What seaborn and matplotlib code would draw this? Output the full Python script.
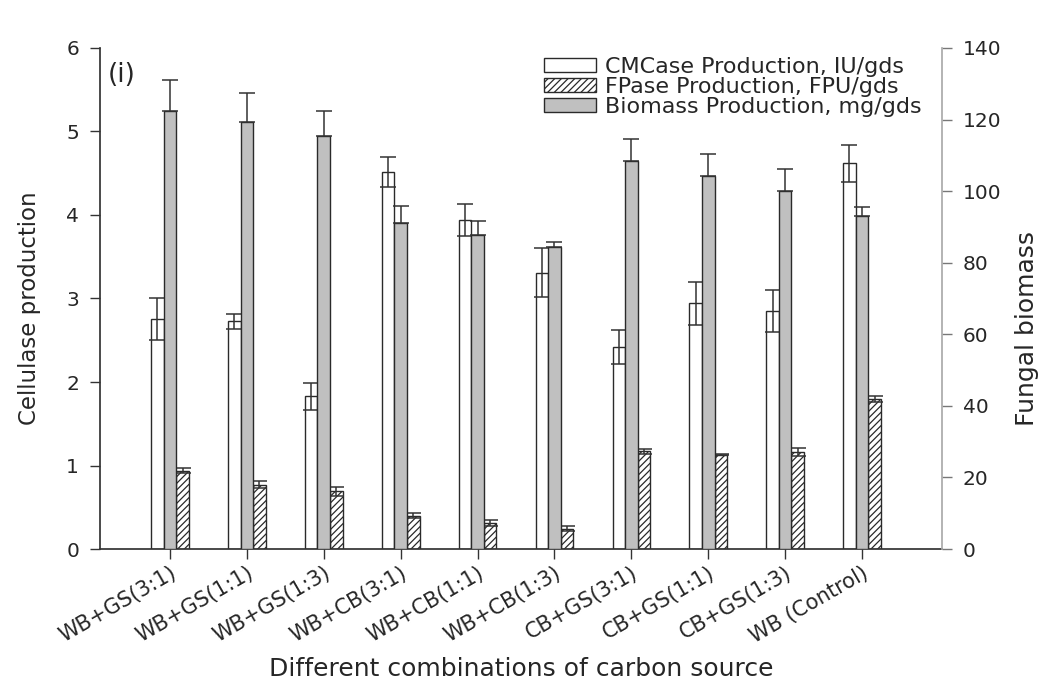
import numpy as np
import pandas as pd
import matplotlib
matplotlib.use("Agg")
import matplotlib.pyplot as plt
import matplotlib.transforms as mtransforms
from matplotlib.patches import Patch
import seaborn as sns

categories = ["WB+GS(3:1)", "WB+GS(1:1)", "WB+GS(1:3)", "WB+CB(3:1)", "WB+CB(1:1)",
              "WB+CB(1:3)", "CB+GS(3:1)", "CB+GS(1:1)", "CB+GS(1:3)", "WB (Control)"]
cmcase = [2.75, 2.73, 1.83, 4.52, 3.94, 3.31, 2.42, 2.94, 2.85, 4.62]
cmcase_err = [0.25, 0.09, 0.16, 0.18, 0.19, 0.29, 0.20, 0.26, 0.25, 0.22]
fpase = [0.94, 0.77, 0.69, 0.40, 0.31, 0.24, 1.17, 1.13, 1.16, 1.80]
fpase_err = [0.03, 0.04, 0.05, 0.03, 0.035, 0.03, 0.03, 0.01, 0.05, 0.035]
biomass = [122.5, 119.3, 115.5, 91.2, 87.8, 84.5, 108.4, 104.3, 100.0, 93.0]
biomass_err = [8.6, 8.0, 7.0, 4.7, 3.9, 1.4, 6.2, 6.2, 6.2, 2.6]

lab_cm = "CMCase Production, IU/gds"
lab_fp = "FPase Production, FPU/gds"
lab_bm = "Biomass Production, mg/gds"

sns.set_theme(style="white")
plt.rcParams["font.family"] = ["DejaVu Sans"]
plt.rcParams["hatch.linewidth"] = 0.9

left_df = pd.DataFrame({
    "cat": categories * 2,
    "value": cmcase + fpase,
    "series": [lab_cm] * len(categories) + [lab_fp] * len(categories),
})
right_df = pd.DataFrame({"cat": categories, "value": biomass, "series": [lab_bm] * len(categories)})

fig = plt.figure(figsize=(10.46, 6.85), dpi=100)
ax = fig.add_axes([0.0956, 0.1985, 0.805, 0.7315])
ax2 = ax.twinx()

edge = "#2a2a2a"
W = 0.49
sns.barplot(data=left_df, x="cat", y="value", hue="series",
            hue_order=[lab_cm, "_gap", lab_fp], order=categories,
            palette={lab_cm: "white", "_gap": "white", lab_fp: "white"},
            width=W, dodge=True, errorbar=None, edgecolor=edge, linewidth=1.0,
            legend=False, ax=ax, saturation=1)
sns.barplot(data=right_df, x="cat", y="value", hue="series",
            hue_order=["_a", lab_bm, "_b"], order=categories,
            palette={"_a": "white", lab_bm: "#c0c0c0", "_b": "white"},
            width=W, dodge=True, errorbar=None, edgecolor=edge, linewidth=1.0,
            legend=False, ax=ax2, saturation=1)


def bar_centers(axis, side):
    """Centers of the drawn bars on one side (-1 left, 0 middle, +1 right) of each category."""
    found = {}
    for p in axis.patches:
        cx = p.get_x() + p.get_width() / 2
        i = int(round(cx))
        off = cx - i
        s = 0 if abs(off) < 0.05 else (1 if off > 0 else -1)
        if s == side:
            found[i] = (cx, p)
    idx = sorted(found)
    return [found[i][0] for i in idx], [found[i][1] for i in idx]


cm_x, _ = bar_centers(ax, -1)
fp_x, fp_patches = bar_centers(ax, 1)
bm_x, _ = bar_centers(ax2, 0)
for p in fp_patches:
    p.set_hatch("/////")

ecol = "#333333"
eb = dict(fmt="none", ecolor=ecol, elinewidth=1.1, capsize=5.5, capthick=1.1, zorder=5)
ax.errorbar(cm_x, cmcase, yerr=cmcase_err, **eb)
ax.errorbar(fp_x, fpase, yerr=fpase_err, **eb)
ax2.errorbar(bm_x, biomass, yerr=[np.zeros(len(biomass)), biomass_err], **eb)

ax.set_xlim(-0.91, 10.04)
ax.set_ylim(0, 6)
ax2.set_ylim(0, 140)
ax.set_yticks(range(0, 7))
ax2.set_yticks(range(0, 141, 20))

ax.set_xticks(range(len(categories)))
ax.set_xticklabels(categories, rotation=30, ha="right", rotation_mode="anchor", fontsize=15)
shift = mtransforms.ScaledTranslation(6 / 100, 0, fig.dpi_scale_trans)
for t in ax.get_xticklabels():
    t.set_transform(t.get_transform() + shift)
ax.tick_params(axis="x", length=7, width=1, color="#333333", direction="out", pad=3, bottom=True)
ax.tick_params(axis="y", length=7, width=1, color="#333333", direction="out", labelsize=14.5,
               left=True, pad=8)
ax2.tick_params(axis="y", length=7, width=1, color="#777777", direction="out", labelsize=14.5,
                right=True, pad=8)

ax.set_ylabel("Cellulase production", fontsize=16.5, va="center")
ax.yaxis.set_label_coords(-0.084, 0.48)
ax2.set_ylabel("Fungal biomass", fontsize=18, va="center")
ax2.yaxis.set_label_coords(1.101, 0.44)
ax.set_xlabel("Different combinations of carbon source", fontsize=18, va="center")
ax.xaxis.set_label_coords(0.5, -0.24)

for a in (ax, ax2):
    a.spines["top"].set_visible(False)
ax.spines["left"].set_color("#333333")
ax.spines["bottom"].set_color("#333333")
ax.spines["right"].set_visible(False)
ax2.spines["left"].set_visible(False)
ax2.spines["bottom"].set_visible(False)
ax2.spines["right"].set_color("#aaaaaa")

ax.text(0.009, 0.946, "(i)", transform=ax.transAxes, fontsize=19, va="center", ha="left")

handles = [Patch(facecolor="white", edgecolor=edge, linewidth=1.0, label=lab_cm),
           Patch(facecolor="white", edgecolor=edge, linewidth=1.0, hatch="/////", label=lab_fp),
           Patch(facecolor="#c0c0c0", edgecolor=edge, linewidth=1.0, label=lab_bm)]
ax2.legend(handles=handles, loc="upper right", bbox_to_anchor=(0.976, 0.982), frameon=False,
           fontsize=16, handlelength=2.35, handleheight=0.55, labelspacing=0.0,
           handletextpad=0.4, borderpad=0, borderaxespad=0)

fig.savefig("out.png", dpi=100)
